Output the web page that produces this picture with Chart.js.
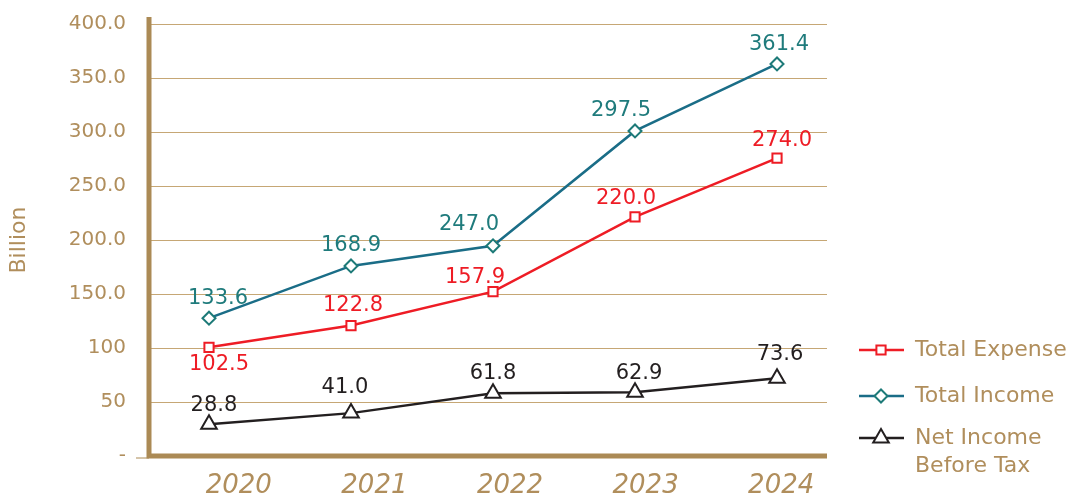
<!DOCTYPE html>
<html>
<head>
<meta charset="utf-8">
<script src="https://cdn.jsdelivr.net/npm/chart.js@4.4.1/dist/chart.umd.min.js"></script>
<style>
  html, body { margin: 0; padding: 0; background: #fff; }
  #wrap { width: 1081px; height: 495px; }
</style>
</head>
<body>
<div id="wrap"><canvas id="chart" width="1081" height="495"></canvas></div>
<script>
// --- data ---
const years = ['2020', '2021', '2022', '2023', '2024'];
// plotted positions
const expenseValues = [100.6, 120.8, 152.2, 221.4, 275.8];
const incomeValues = [127.6, 176.0, 194.6, 301.0, 363.0];
const netValues = [29.5, 39.7, 58.1, 59.0, 72.0];
// printed value labels
const expenseLabels = ['102.5', '122.8', '157.9', '220.0', '274.0'];
const incomeLabels = ['133.6', '168.9', '247.0', '297.5', '361.4'];
const netLabels = ['28.8', '41.0', '61.8', '62.9', '73.6'];
const yTickLabels = ['-', '50', '100', '150.0', '200.0', '250.0', '300.0', '350.0', '400.0'];

// --- placement of value labels relative to each point (px) ---
const expenseOffsets = [[10, 17], [2, -20], [-18, -14], [-9, -18], [5, -18]];
const incomeOffsets = [[9, -20], [0, -20], [-24, -21], [-14, -20], [2, -19]];
const netOffsets = [[5, -19], [-6, -26], [0, -20], [4, -19], [3, -24]];

const GOLD = '#b08e5c';
const GRID = '#c6a775';
const FRAME = '#ab8a55';
const FONT = "'DejaVu Sans', sans-serif";

const toPoints = vals => vals.map((v, i) => ({ x: i, y: v }));

// value labels next to the points
const valueLabels = {
    id: 'valueLabels',
    afterDatasetsDraw(chart) {
        const ctx = chart.ctx;
        ctx.save();
        ctx.font = '21px ' + FONT;
        ctx.textAlign = 'center';
        ctx.textBaseline = 'middle';
        chart.data.datasets.forEach((ds, di) => {
            const meta = chart.getDatasetMeta(di);
            ctx.fillStyle = ds.labelColor;
            meta.data.forEach((pt, i) => {
                const [dx, dy] = ds.labelOffsets[i];
                ctx.fillText(ds.valueLabels[i], pt.x + dx, pt.y + dy);
            });
        });
        ctx.restore();
    }
};

// thick gold frame on the left and bottom
const frame = {
    id: 'frame',
    beforeDatasetsDraw(chart) {
        const { ctx, chartArea: a } = chart;
        ctx.save();
        ctx.strokeStyle = FRAME;
        ctx.lineWidth = 5;
        ctx.beginPath();
        ctx.moveTo(a.left, a.top - 7);
        ctx.lineTo(a.left, a.bottom + 2.5);
        ctx.moveTo(a.left - 2.5, a.bottom);
        ctx.lineTo(a.right, a.bottom);
        ctx.stroke();
        ctx.lineWidth = 1;
        ctx.beginPath();
        ctx.moveTo(a.left - 13, a.bottom + 2);
        ctx.lineTo(a.left, a.bottom + 2);
        ctx.stroke();
        ctx.restore();
    }
};

// legend on the right: short line with marker, then text
const sideLegend = {
    id: 'sideLegend',
    afterDraw(chart) {
        const ctx = chart.ctx;
        const rows = [350, 396, 438];
        ctx.save();
        chart.data.datasets.forEach((ds, i) => {
            const y = rows[i];
            ctx.strokeStyle = ds.borderColor;
            ctx.lineWidth = 2.5;
            ctx.beginPath();
            ctx.moveTo(859, y);
            ctx.lineTo(904, y);
            ctx.stroke();
            ctx.fillStyle = '#fff';
            ctx.strokeStyle = ds.pointBorderColor;
            ctx.lineWidth = 2;
            Chart.helpers.drawPoint(ctx, {
                pointStyle: ds.pointStyle, radius: ds.pointRadius, rotation: 0, borderWidth: 2
            }, 881, y);
            ctx.fillStyle = GOLD;
            ctx.font = '22px ' + FONT;
            ctx.textAlign = 'left';
            ctx.textBaseline = 'middle';
            ds.legendLines.forEach((line, k) => ctx.fillText(line, 915, y + k * 28));
        });
        ctx.restore();
    }
};

new Chart(document.getElementById('chart'), {
    type: 'line',
    data: {
        labels: years,
        datasets: [
            {
                label: 'Total Expense',
                legendLines: ['Total Expense'],
                data: toPoints(expenseValues),
                valueLabels: expenseLabels,
                labelOffsets: expenseOffsets,
                labelColor: '#ee1c25',
                borderColor: '#ee1c25',
                borderWidth: 2.5,
                pointStyle: 'rect',
                pointRadius: 6.5,
                pointBorderColor: '#ee1c25',
                pointBackgroundColor: '#fff',
                pointBorderWidth: 2
            },
            {
                label: 'Total Income',
                legendLines: ['Total Income'],
                data: toPoints(incomeValues),
                valueLabels: incomeLabels,
                labelOffsets: incomeOffsets,
                labelColor: '#1f7b7c',
                borderColor: '#1a6d87',
                borderWidth: 2.5,
                pointStyle: 'rectRot',
                pointRadius: 6.5,
                pointBorderColor: '#1d7a78',
                pointBackgroundColor: '#fff',
                pointBorderWidth: 2
            },
            {
                label: 'Net Income Before Tax',
                legendLines: ['Net Income', 'Before Tax'],
                data: toPoints(netValues),
                valueLabels: netLabels,
                labelOffsets: netOffsets,
                labelColor: '#231f20',
                borderColor: '#231f20',
                borderWidth: 2.5,
                pointStyle: 'triangle',
                pointRadius: 9,
                pointBorderColor: '#231f20',
                pointBackgroundColor: '#fff',
                pointBorderWidth: 2
            }
        ]
    },
    options: {
        responsive: false,
        animation: false,
        devicePixelRatio: 1,
        layout: { padding: { top: 24, right: 254, left: 0, bottom: 0 } },
        plugins: {
            legend: { display: false },
            tooltip: { enabled: false }
        },
        scales: {
            x: {
                type: 'linear',
                display: false,
                min: -0.4225,
                max: 4.352
            },
            xYears: {
                type: 'category',
                position: 'bottom',
                offset: true,
                grid: { display: false },
                border: { display: false },
                ticks: {
                    color: GOLD,
                    font: { family: FONT, size: 26, style: 'italic' },
                    labelOffset: 22,
                    padding: 7
                },
                afterFit: s => { s.height = 39; }
            },
            y: {
                min: 0,
                max: 400,
                ticks: {
                    stepSize: 50,
                    color: GOLD,
                    font: { family: FONT, size: 20 },
                    padding: 23,
                    callback: v => yTickLabels[v / 50]
                },
                grid: { color: GRID, lineWidth: 1, drawTicks: false },
                border: { display: false },
                title: {
                    display: true,
                    text: 'Billion',
                    color: GOLD,
                    font: { family: FONT, size: 22 },
                    padding: { top: 6, bottom: 0 }
                },
                afterFit: s => {
                    s.width = 149;
                    s.paddingTop = 0;
                    s.paddingBottom = 0;
                }
            }
        }
    },
    plugins: [frame, valueLabels, sideLegend]
});
</script>
</body>
</html>
